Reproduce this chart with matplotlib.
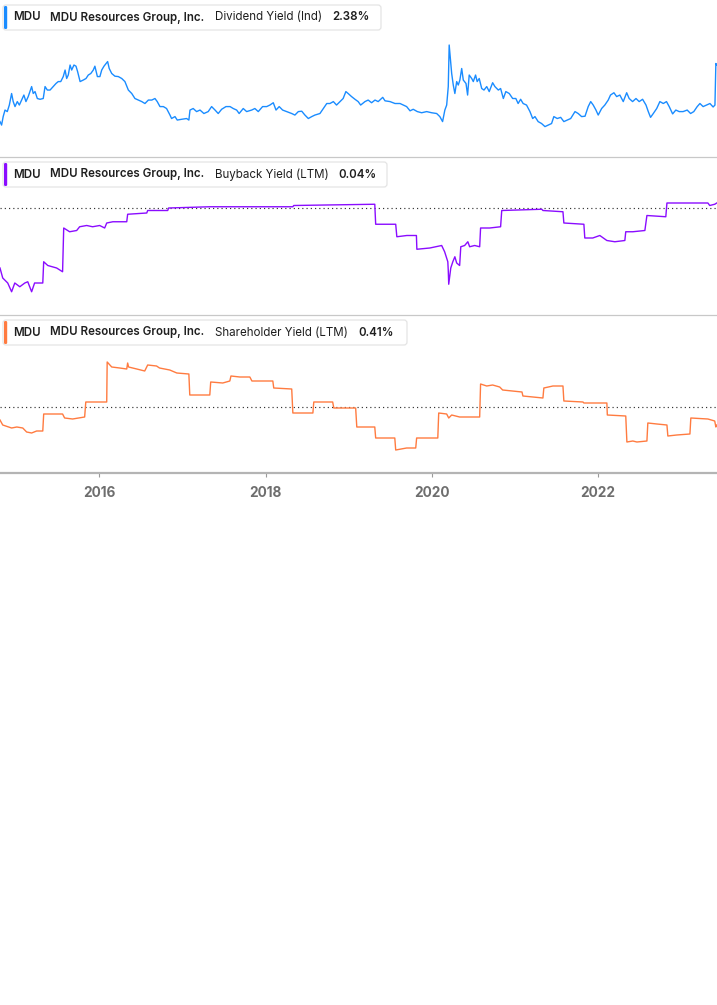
import matplotlib
matplotlib.use("Agg")
import matplotlib.pyplot as plt
from matplotlib.patches import FancyBboxPatch
from matplotlib.transforms import IdentityTransform
import pandas as pd

# ---------------- data ----------------
ticker = "MDU"
company = "MDU Resources Group, Inc."
metrics = ["Dividend Yield (Ind)", "Buyback Yield (LTM)", "Shareholder Yield (LTM)"]
latest = ["2.38%", "0.04%", "0.41%"]
tick_years = ["2016", "2018", "2020", "2022"]

div_dates = [
    "2014-10-22", "2014-10-29", "2014-11-05", "2014-11-13", "2014-11-23", "2014-12-02", "2014-12-12", "2014-12-19",
    "2014-12-27",
    "2015-01-06", "2015-01-15", "2015-01-25", "2015-02-04", "2015-02-13", "2015-02-23", "2015-03-10", "2015-03-17",
    "2015-03-25", "2015-04-04", "2015-04-16", "2015-04-30", "2015-05-08", "2015-05-18", "2015-05-30", "2015-06-13",
    "2015-06-25", "2015-07-05", "2015-07-16", "2015-07-27", "2015-08-04", "2015-08-11", "2015-08-18", "2015-08-26",
    "2015-09-02", "2015-09-12", "2015-09-21", "2015-09-28", "2015-10-09", "2015-10-23", "2015-11-04", "2015-11-14",
    "2015-11-25", "2015-12-06", "2015-12-13", "2015-12-24",
    "2016-01-04", "2016-01-12", "2016-01-22", "2016-01-31", "2016-02-07", "2016-02-14", "2016-02-25", "2016-03-10",
    "2016-03-25", "2016-04-09", "2016-04-23", "2016-05-08", "2016-05-23", "2016-06-06", "2016-06-21", "2016-07-06",
    "2016-07-20", "2016-08-04", "2016-08-19", "2016-09-02", "2016-09-12", "2016-09-24", "2016-10-09", "2016-10-23",
    "2016-11-07", "2016-11-14", "2016-11-29", "2016-12-09", "2016-12-28",
    "2017-01-19", "2017-01-29", "2017-02-03", "2017-02-17", "2017-03-04", "2017-03-19", "2017-04-05", "2017-04-24",
    "2017-05-09", "2017-05-24", "2017-06-07", "2017-06-22", "2017-07-11", "2017-07-29", "2017-08-12", "2017-08-27",
    "2017-09-07", "2017-09-25", "2017-10-10", "2017-11-01", "2017-11-15", "2017-11-30", "2017-12-19",
    "2018-01-06", "2018-01-20", "2018-02-04", "2018-02-16", "2018-03-02", "2018-03-17", "2018-04-04", "2018-04-26",
    "2018-05-10", "2018-05-25", "2018-06-09", "2018-06-23", "2018-07-08", "2018-07-23", "2018-08-06", "2018-08-28",
    "2018-09-12", "2018-09-27", "2018-10-11", "2018-10-26", "2018-11-09", "2018-11-24", "2018-12-08", "2018-12-20",
    "2018-12-30",
    "2019-01-14", "2019-01-29", "2019-02-12", "2019-02-23", "2019-03-14", "2019-03-28", "2019-04-12", "2019-04-27",
    "2019-05-11", "2019-05-31", "2019-06-10", "2019-07-02", "2019-07-24", "2019-08-15", "2019-08-29", "2019-09-13",
    "2019-09-28", "2019-10-12", "2019-10-30", "2019-11-18", "2019-12-10",
    "2020-01-01", "2020-01-23", "2020-02-06", "2020-02-18", "2020-02-28", "2020-03-07", "2020-03-14", "2020-03-18",
    "2020-03-24", "2020-03-29", "2020-04-05", "2020-04-12", "2020-04-20", "2020-04-27", "2020-05-04", "2020-05-12",
    "2020-05-19", "2020-05-31", "2020-06-07", "2020-06-14", "2020-06-25", "2020-07-02", "2020-07-12", "2020-07-19",
    "2020-07-28", "2020-08-08", "2020-08-18", "2020-08-30", "2020-09-10", "2020-09-25", "2020-10-05", "2020-10-20",
    "2020-10-30", "2020-11-11", "2020-11-22", "2020-12-07", "2020-12-22",
    "2021-01-05", "2021-01-15", "2021-01-26", "2021-02-06", "2021-02-21", "2021-03-08", "2021-03-20", "2021-03-30",
    "2021-04-13", "2021-04-28", "2021-05-13", "2021-05-27", "2021-06-11", "2021-06-21", "2021-07-06", "2021-07-21",
    "2021-08-04", "2021-08-19", "2021-09-03", "2021-09-22", "2021-10-06", "2021-10-21", "2021-11-05", "2021-11-19",
    "2021-11-30", "2021-12-11", "2021-12-23",
    "2022-01-02", "2022-01-17", "2022-01-31", "2022-02-15", "2022-02-25", "2022-03-12", "2022-03-24", "2022-04-07",
    "2022-04-22", "2022-05-07", "2022-05-18", "2022-06-02", "2022-06-17", "2022-07-01", "2022-07-16", "2022-07-31",
    "2022-08-10", "2022-08-20", "2022-09-01", "2022-09-16", "2022-09-30", "2022-10-15", "2022-10-29", "2022-11-10",
    "2022-11-25", "2022-12-09", "2022-12-24",
    "2023-01-10", "2023-01-28", "2023-02-12", "2023-02-26", "2023-03-13", "2023-03-25", "2023-04-08", "2023-04-23",
    "2023-05-08", "2023-05-22", "2023-05-30", "2023-06-03", "2023-06-07",
]
div_values = [
    2.61, 2.52, 2.74, 2.91, 2.87, 3.04, 3.34, 3.13,
    3.00,
    3.13, 3.04, 3.17, 3.30, 3.13, 3.26, 3.52, 3.34,
    3.39, 3.21, 3.19, 3.21, 3.52, 3.43, 3.43, 3.52,
    3.60, 3.65, 3.65, 3.78, 3.95, 3.73, 3.82, 4.08,
    3.95, 4.08, 4.05, 3.91, 3.65, 3.69, 3.73, 3.82,
    3.86, 3.95, 4.05, 3.78,
    3.78, 3.95, 4.05, 4.12, 4.17, 3.99, 3.86, 3.79,
    3.78, 3.73, 3.65, 3.43, 3.34, 3.21, 3.17, 3.13,
    3.08, 3.17, 3.17, 3.21, 3.13, 3.00, 3.00, 2.95,
    2.78, 2.69, 2.74, 2.65, 2.67,
    2.69, 2.65, 2.91, 2.95, 2.87, 2.91, 2.82, 2.87,
    3.00, 2.91, 2.82, 2.93, 3.00, 3.00, 2.95, 2.91,
    2.82, 2.95, 2.87, 2.91, 2.95, 2.87, 3.00,
    3.00, 3.04, 3.10, 2.91, 3.00, 2.91, 2.87, 2.82,
    2.78, 2.87, 2.88, 2.78, 2.69, 2.74, 2.78, 2.82,
    2.95, 3.08, 3.08, 3.13, 3.04, 3.13, 3.21, 3.39,
    3.34,
    3.26, 3.19, 3.13, 3.04, 3.13, 3.17, 3.10, 3.17,
    3.13, 3.24, 3.15, 3.13, 3.08, 3.08, 3.04, 3.00,
    2.89, 2.93, 2.87, 2.84, 2.87,
    2.84, 2.82, 2.74, 2.61, 2.91, 3.04, 3.52, 4.60,
    4.21, 3.86, 3.56, 3.34, 3.65, 3.56, 3.69, 3.99,
    3.69, 3.60, 3.30, 3.82, 3.73, 3.65, 3.82, 3.65,
    3.73, 3.47, 3.43, 3.52, 3.39, 3.62, 3.52, 3.43,
    3.47, 3.21, 3.39, 3.34, 3.21,
    3.21, 3.08, 3.19, 3.08, 3.04, 2.87, 2.69, 2.74,
    2.61, 2.56, 2.48, 2.52, 2.56, 2.74, 2.69, 2.72,
    2.61, 2.65, 2.69, 2.87, 2.82, 2.74, 2.75, 3.00,
    3.13, 3.04, 2.91,
    2.78, 2.95, 3.04, 3.17, 3.30, 3.36, 3.26, 3.30,
    3.13, 3.36, 3.21, 3.13, 3.21, 3.13, 3.19, 3.04,
    2.87, 2.72, 2.82, 2.95, 3.13, 3.08, 3.13, 3.00,
    2.81, 2.91, 2.87,
    2.87, 2.91, 2.82, 2.87, 3.00, 3.08, 3.00, 3.04,
    3.08, 2.99, 3.04, 4.12, 4.08,
]

bb_dates = [
    "2014-10-22", "2014-11-03", "2014-11-25", "2014-12-12", "2014-12-26",
    "2015-01-17", "2015-02-08", "2015-02-21", "2015-03-10", "2015-03-23", "2015-04-14", "2015-04-28", "2015-05-02",
    "2015-05-20", "2015-06-28", "2015-07-24", "2015-07-29", "2015-08-24", "2015-09-24", "2015-10-07", "2015-11-07",
    "2015-12-03",
    "2016-01-03", "2016-01-25", "2016-02-03", "2016-03-01", "2016-05-01", "2016-05-05", "2016-07-28", "2016-08-01",
    "2016-10-28", "2016-11-01",
    "2017-05-01", "2018-05-01", "2018-05-05",
    "2019-04-26", "2019-04-30", "2019-07-27", "2019-08-01", "2019-09-14", "2019-10-26", "2019-10-28", "2019-12-24",
    "2020-02-14", "2020-02-27", "2020-03-12", "2020-03-14", "2020-03-16", "2020-03-25", "2020-04-03", "2020-04-12",
    "2020-04-20", "2020-05-03", "2020-05-08", "2020-05-25", "2020-06-08", "2020-06-16", "2020-07-08", "2020-07-30",
    "2020-08-03", "2020-09-12", "2020-10-30", "2020-11-04",
    "2021-04-29", "2021-05-04", "2021-07-31", "2021-08-04", "2021-10-31", "2021-11-04", "2021-12-09",
    "2022-01-09", "2022-02-09", "2022-03-16", "2022-04-29", "2022-05-03", "2022-06-03", "2022-07-26", "2022-08-04",
    "2022-10-26", "2022-10-31",
    "2023-04-29", "2023-05-07", "2023-05-29", "2023-06-07",
]
bb_values = [
    -0.48, -0.56, -0.60, -0.67, -0.60,
    -0.63, -0.60, -0.59, -0.67, -0.60, -0.60, -0.60, -0.43,
    -0.46, -0.48, -0.51, -0.16, -0.19, -0.18, -0.15, -0.14,
    -0.15,
    -0.14, -0.16, -0.12, -0.11, -0.11, -0.05, -0.04, -0.02,
    -0.02, 0.00,
    0.01, 0.01, 0.02,
    0.03, -0.13, -0.13, -0.23, -0.22, -0.22, -0.33, -0.32,
    -0.30, -0.35, -0.43, -0.50, -0.61, -0.48, -0.43, -0.39,
    -0.44, -0.46, -0.31, -0.30, -0.27, -0.31, -0.30, -0.31,
    -0.16, -0.16, -0.15, -0.02,
    -0.01, -0.02, -0.03, -0.12, -0.13, -0.24, -0.24,
    -0.22, -0.26, -0.27, -0.26, -0.19, -0.19, -0.18, -0.06,
    -0.07, 0.04,
    0.04, 0.02, 0.03, 0.04,
]

sh_dates = [
    "2014-10-22", "2014-11-03", "2014-12-12",
    "2015-01-04", "2015-01-30", "2015-02-16", "2015-03-10", "2015-04-01", "2015-04-28", "2015-05-02", "2015-07-24",
    "2015-08-02", "2015-09-06", "2015-10-29", "2015-11-03",
    "2016-02-03", "2016-02-05", "2016-02-25", "2016-03-31", "2016-05-01", "2016-05-05", "2016-05-09", "2016-06-14",
    "2016-07-19", "2016-08-01", "2016-09-09", "2016-09-22", "2016-11-06", "2016-12-07",
    "2017-01-29", "2017-02-02", "2017-05-01", "2017-05-05", "2017-06-27", "2017-07-28", "2017-08-02", "2017-09-10",
    "2017-10-24", "2017-11-02",
    "2018-02-02", "2018-02-06", "2018-04-26", "2018-05-01", "2018-07-28", "2018-08-01", "2018-10-23", "2018-10-28",
    "2019-02-01", "2019-02-06", "2019-04-26", "2019-04-30", "2019-07-23", "2019-07-27", "2019-09-13", "2019-10-23",
    "2019-10-27",
    "2020-01-28", "2020-02-01", "2020-03-07", "2020-03-16", "2020-03-29", "2020-05-03", "2020-07-30", "2020-08-03",
    "2020-08-30", "2020-09-25", "2020-10-26", "2020-11-08",
    "2021-02-01", "2021-02-05", "2021-05-04", "2021-05-08", "2021-06-17", "2021-07-31", "2021-08-04", "2021-10-27",
    "2021-10-31",
    "2022-02-09", "2022-02-11", "2022-05-03", "2022-05-08", "2022-06-03", "2022-06-21", "2022-08-04", "2022-08-08",
    "2022-09-17", "2022-10-31", "2022-11-04", "2022-12-13",
    "2023-02-09", "2023-02-13", "2023-04-29", "2023-05-29", "2023-06-03", "2023-06-07",
]
sh_values = [
    -1.04, -1.44, -1.68,
    -1.60, -1.68, -2.00, -2.08, -1.92, -1.92, -0.56, -0.56,
    -0.88, -0.96, -0.80, 0.40,
    0.40, 3.60, 3.20, 3.12, 3.04, 3.52, 3.20, 3.04,
    2.88, 3.36, 3.28, 3.12, 2.96, 2.72,
    2.64, 0.96, 0.96, 2.00, 1.92, 2.08, 2.48, 2.40,
    2.40, 2.08,
    2.08, 1.52, 1.44, -0.48, -0.48, 0.40, 0.40, -0.08,
    -0.08, -1.60, -1.60, -2.48, -2.48, -3.44, -3.28, -3.28,
    -2.48,
    -2.48, -0.48, -0.56, -0.88, -0.64, -0.80, -0.80, 1.84,
    1.68, 1.76, 1.60, 1.36,
    1.20, 0.88, 0.72, 1.52, 1.68, 1.68, 0.48, 0.40,
    0.32,
    0.32, -0.64, -0.72, -2.80, -2.72, -2.80, -2.72, -1.28,
    -1.36, -1.44, -2.32, -2.24,
    -2.16, -0.88, -0.96, -1.12, -1.60, -1.44,
]

series = [(div_dates, div_values), (bb_dates, bb_values), (sh_dates, sh_values)]
for d, v in series:
    assert len(d) == len(v)

# ---------------- styling / layout ----------------
W, H = 717, 1005
colors = ["#1a8cff", "#8a0cff", "#ff7b40"]
panel_px = [(0, 157), (157, 315), (315, 473)]          # top, bottom (pixels from top)
ylims = [(1.69, 5.77), (-0.856, 0.408), (-5.28, 7.36)]
legend_top = [5, 162, 320]
legend_right = [381, 387, 407]
metric_x = 215
value_x = [332, 338, 358]
xlim = (pd.Timestamp("2014-10-22"), pd.Timestamp("2023-06-08"))
FONT = ["Inter", "DejaVu Sans"]

fig = plt.figure(figsize=(W / 100, H / 100), dpi=100)
fig.patch.set_facecolor("white")


def fy(px):
    return 1 - px / H


for i, ((dates, vals), (top, bot)) in enumerate(zip(series, panel_px)):
    ax = fig.add_axes([0, fy(bot), 1, (bot - top) / H])
    ax.patch.set_visible(False)
    ax.plot(pd.to_datetime(dates), vals, color=colors[i], lw=1.0)
    ax.set_xlim(xlim)
    ax.set_ylim(ylims[i])
    for s in ["top", "left", "right"]:
        ax.spines[s].set_visible(False)
    ax.set_yticks([])
    if i > 0:
        ax.axhline(0, color="#333333", lw=0.85, ls=(0, (1, 2.6)), zorder=0)
    if i < 2:
        ax.set_xticks([])
        ax.spines["bottom"].set_color("#c8c8c8")
        ax.spines["bottom"].set_linewidth(0.9)
    else:
        ax.spines["bottom"].set_color("#b4b4b4")
        ax.spines["bottom"].set_linewidth(1.6)
        ax.set_xticks([pd.Timestamp(f"{y}-01-01") for y in tick_years])
        ax.set_xticklabels(tick_years, family=FONT, fontsize=9.8, fontweight="bold", color="#6e6e6e")
        ax.tick_params(axis="x", length=3, width=0.8, color="#9a9a9a", pad=6)

    # legend box
    lt = legend_top[i]
    lb = lt + 25
    box = FancyBboxPatch((3, H - lb), legend_right[i] - 3, lb - lt,
                         boxstyle="round,pad=0,rounding_size=3",
                         transform=IdentityTransform(), facecolor="white",
                         edgecolor="#e4e4e4", lw=0.9, zorder=5)
    fig.add_artist(box)
    bar = FancyBboxPatch((4, H - (lb - 1)), 3.2, lb - lt - 2,
                         boxstyle="round,pad=0,rounding_size=1.3",
                         transform=IdentityTransform(), facecolor=colors[i],
                         edgecolor="none", zorder=6)
    fig.add_artist(bar)
    yc = fy(lt + 12.5)
    kw = dict(va="center", ha="left", family=FONT, fontsize=8.3, color="#1f1f1f", zorder=7)
    fig.text(13 / W, yc, ticker, fontweight="semibold", **kw)
    fig.text(50 / W, yc, company, fontweight="semibold", **kw)
    fig.text(metric_x / W, yc, metrics[i], fontweight="normal", **kw)
    fig.text(value_x[i] / W, yc, latest[i], fontweight="semibold", **kw)

fig.savefig("out.png", dpi=100, facecolor="white")
